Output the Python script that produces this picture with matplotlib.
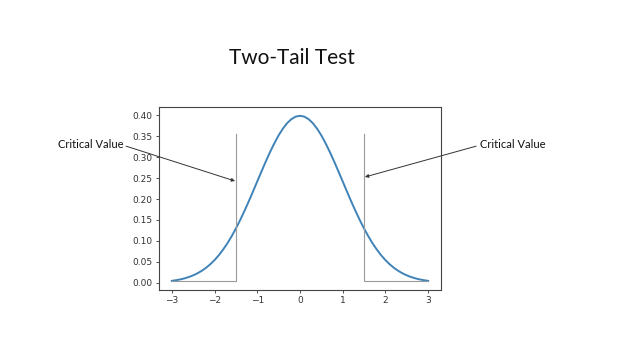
import matplotlib
matplotlib.use('Agg')
import matplotlib.pyplot as plt

# curve values (standard normal shape), right half
half_x = [0.0, 0.1, 0.2, 0.3, 0.4, 0.5, 0.6, 0.7, 0.8, 0.9, 1.0,
          1.1, 1.2, 1.3, 1.4, 1.5, 1.6, 1.7, 1.8, 1.9, 2.0,
          2.1, 2.2, 2.3, 2.4, 2.5, 2.6, 2.7, 2.8, 2.9, 3.0]
half_y = [0.3989, 0.3970, 0.3910, 0.3814, 0.3683, 0.3521, 0.3332, 0.3123, 0.2897, 0.2661, 0.2420,
          0.2179, 0.1942, 0.1714, 0.1497, 0.1295, 0.1109, 0.0940, 0.0790, 0.0656, 0.0540,
          0.0440, 0.0355, 0.0283, 0.0224, 0.0175, 0.0136, 0.0104, 0.0079, 0.0060, 0.0044]
# curve is symmetric, mirror the left half
xs = [-v for v in half_x[:0:-1]] + half_x
ys = half_y[:0:-1] + half_y

# critical region outline
crit = 1.49
line_top = 0.355
base = 0.004
x_ends = [-3.0, 3.0]

title = "Two-Tail Test"
note = "Critical Value"

fig = plt.figure(figsize=(6.4, 3.6), dpi=100)
fig.patch.set_facecolor('white')
ax = fig.add_axes([0.2484, 0.1944, 0.4406, 0.509])

ax.plot(xs, ys, color='#3f83b8', lw=1.4)
# left tail box
ax.plot([x_ends[0], -crit, -crit], [base, base, line_top], color='#9a9a9a', lw=0.8)
# right tail box
ax.plot([x_ends[1], crit, crit], [base, base, line_top], color='#9a9a9a', lw=0.8)

ax.set_xlim(-3.3, 3.3)
ax.set_ylim(-0.0175, 0.4205)
ax.set_xticks([-3, -2, -1, 0, 1, 2, 3])
ax.set_yticks([0.0, 0.05, 0.1, 0.15, 0.2, 0.25, 0.3, 0.35, 0.4])
ax.set_yticklabels(['%.2f' % v for v in ax.get_yticks()])
ax.set_xticklabels(['\u22123', '\u22122', '\u22121', '0', '1', '2', '3'])
ax.tick_params(labelsize=6.5, length=2.5, width=0.6, colors='#333333', pad=2)
for sp in ax.spines.values():
    sp.set_color('#444444')
    sp.set_linewidth(0.8)

fig.text(0.456, 0.838, title, ha='center', va='center', fontsize=15,
         family=['Lato', 'DejaVu Sans'], color='#111111')

# slide annotations
fig.text(0.0906, 0.600, note, ha='left', va='center', fontsize=8,
         family=['Lato', 'DejaVu Sans'], color='#111111')
fig.text(0.750, 0.600, note, ha='left', va='center', fontsize=8,
         family=['Lato', 'DejaVu Sans'], color='#111111')
arrow = dict(arrowstyle='-|>', color='#333333', lw=0.7,
             mutation_scale=5, shrinkA=0, shrinkB=0)
ax.annotate('', xy=(-crit - 0.03, 0.243), xycoords='data',
            xytext=(0.197, 0.594), textcoords='figure fraction', arrowprops=arrow)
ax.annotate('', xy=(crit + 0.03, 0.2527), xycoords='data',
            xytext=(0.744, 0.594), textcoords='figure fraction', arrowprops=arrow)

fig.savefig('out.png', dpi=100)
